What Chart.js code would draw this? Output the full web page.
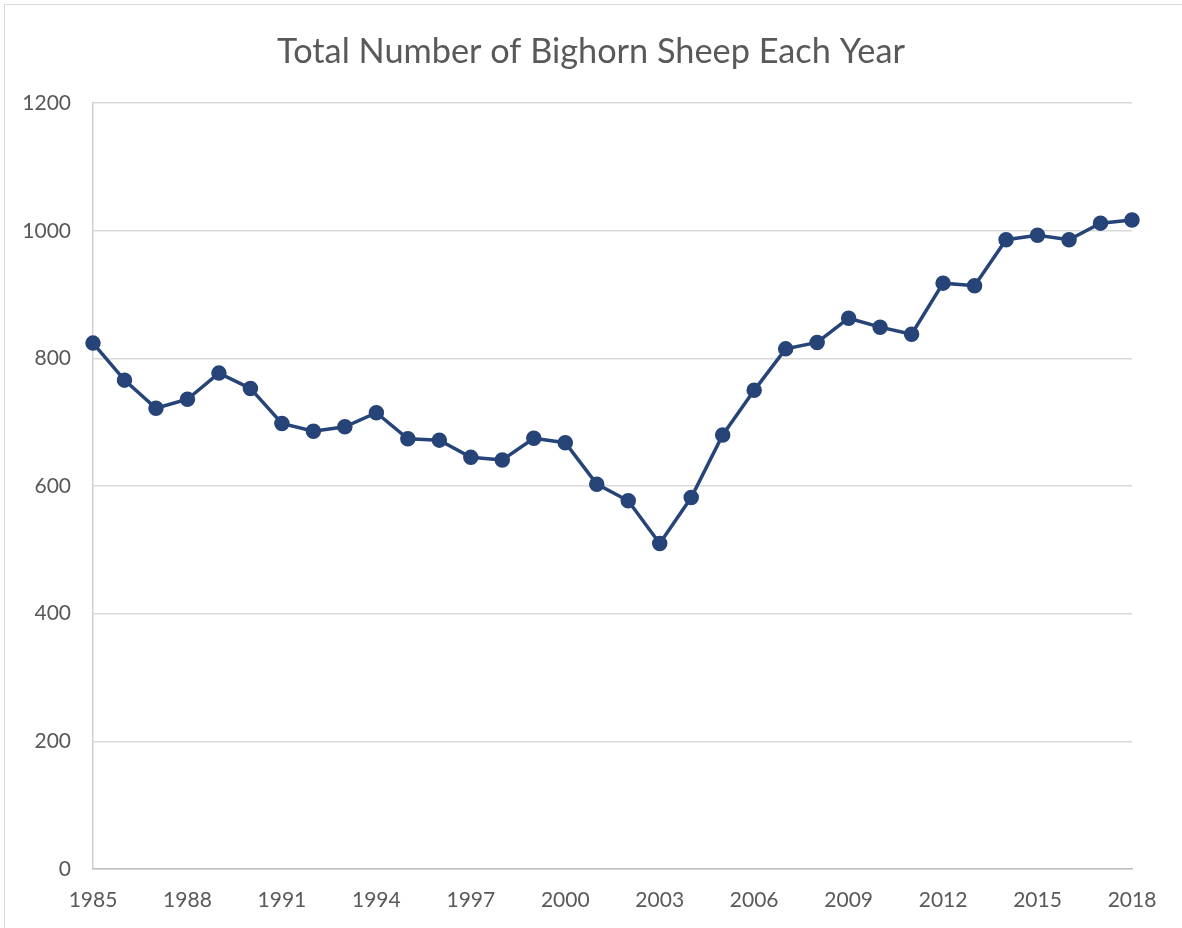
<!DOCTYPE html>
<html lang="en">
  <head>
    <meta charset="UTF-8" />
    <meta name="viewport" content="width=device-width, initial-scale=1.0" />
    <title>Total Number of Bighorn Sheep Each Year</title>
    <script src="https://cdn.jsdelivr.net/npm/chart.js@4.4.0/dist/chart.umd.min.js"></script>
    <style>
      html, body { margin: 0; padding: 0; background: #fff; overflow: hidden; }
      #frame { position: absolute; left: 4px; top: 4px; width: 1400px; height: 1100px; border: 1px solid #d9d9d9; }
      #wrap { position: absolute; left: 0; top: 0; width: 1182px; height: 928px; }
    </style>
  </head>
  <body>
<div id="frame"></div>
<div id="wrap"><canvas id="sheepChart" width="1182" height="928"></canvas></div>

<script>

const years = [1985, 1986, 1987, 1988, 1989, 1990, 1991, 1992, 1993, 1994, 1995, 1996,
  1997, 1998, 1999, 2000, 2001, 2002, 2003, 2004, 2005, 2006, 2007, 2008, 2009, 2010,
  2011, 2012, 2013, 2014, 2015, 2016, 2017, 2018];

const sheep = [824, 766, 722, 736, 777, 753, 698, 686, 693, 715, 674, 672,
  645, 641, 675, 668, 603, 577, 510, 582, 680, 750, 815, 825, 863, 849,
  838, 918, 914, 986, 993, 986, 1012, 1017];

// only every third year gets a label
const labelEvery = 3;

const yTicks = [0, 200, 400, 600, 800, 1000, 1200];

const fontName = 'Lato';
const textColor = '#595959';
const lineColor = '#264478';

const ctx = document.getElementById('sheepChart').getContext('2d');
const myChart = new Chart(ctx, {
    type: 'line',
    data: {
        labels: years,
        datasets: [{
            label: 'Bighorn Sheep',
            data: sheep,
            borderColor: lineColor,
            backgroundColor: lineColor,
            pointBackgroundColor: lineColor,
            pointBorderColor: lineColor,
            pointRadius: 7,
            pointBorderWidth: 1.5,
            borderWidth: 3.5,
            tension: 0,
            fill: false
        }]
    },
    options: {
        responsive: false,
        animation: false,
        layout: { padding: 0 },
        plugins: {
            legend: { display: false },
            tooltip: { enabled: false },
            title: {
                display: true,
                text: 'Total Number of Bighorn Sheep Each Year',
                color: textColor,
                font: { family: fontName, size: 34.3, weight: 'normal' },
                padding: { top: 31, bottom: 31 }
            }
        },
        scales: {
            x: {
                type: 'category',
                offset: false,
                grid: { display: false, drawTicks: false },
                border: { display: true, color: '#bfbfbf', width: 1.5 },
                ticks: {
                    autoSkip: false,
                    maxRotation: 0,
                    color: textColor,
                    font: { family: fontName, size: 21 },
                    padding: 19,
                    callback: function(value, index) {
                        return index % labelEvery === 0 ? years[index] : '';
                    }
                },
                afterFit: function(scale) { scale.height = 59; }
            },
            y: {
                min: 0,
                max: 1200,
                afterBuildTicks: function(scale) {
                    scale.ticks = yTicks.map(v => ({ value: v }));
                },
                grid: { color: '#d9d9d9', lineWidth: 1.5, drawTicks: false },
                border: { display: true, color: '#cfcfcf', width: 1.5 },
                ticks: {
                    color: textColor,
                    font: { family: fontName, size: 21 },
                    padding: 22,
                    callback: function(value) { return String(value); }
                },
                afterFit: function(scale) { scale.width = 93; }
            },
            // empty right axis, keeps room at the right so the title stays centred on the page
            yRight: {
                position: 'right',
                min: 0,
                max: 1200,
                grid: { display: false, drawTicks: false },
                border: { display: false },
                ticks: { display: false },
                afterFit: function(scale) { scale.width = 50; }
            }
        }
    }
});

</script>
  </body>
</html>
